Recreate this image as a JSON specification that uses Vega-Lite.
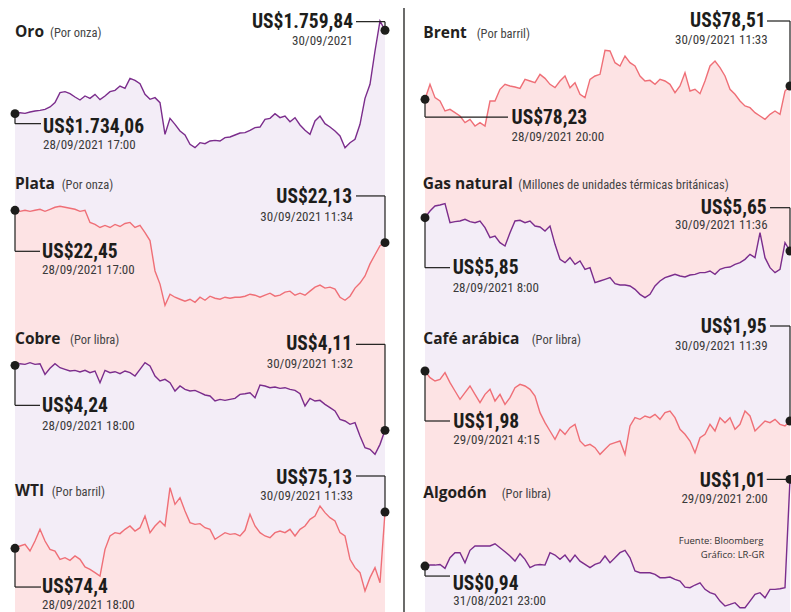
{
"$schema":"https://vega.github.io/schema/vega-lite/v6.json",
"autosize":{"type":"pad"},
"padding":{"left":10,"top":7,"right":0,"bottom":0},
"background":"white",
"config":{"view":{"stroke":null},"text":{"baseline":"alphabetic"},"locale":{"number":{"decimal":",","thousands":".","grouping":[3],"currency":["US$",""]}}},
"datasets":{
"oro":[{"i":0,"v":1734.06,"d":"28/09/2021 17:00"},{"i":1,"v":1734.36},{"i":2,"v":1734.16},{"i":3,"v":1734.57},{"i":4,"v":1734.88},{"i":5,"v":1735.09},{"i":6,"v":1735.40},{"i":7,"v":1736.12},{"i":8,"v":1737.46},{"i":9,"v":1740.55},{"i":10,"v":1740.86},{"i":11,"v":1740.24},{"i":12,"v":1739.21},{"i":13,"v":1738.28},{"i":14,"v":1739.52},{"i":15,"v":1738.80},{"i":16,"v":1740.03},{"i":17,"v":1738.38},{"i":18,"v":1739.52},{"i":19,"v":1740.86},{"i":20,"v":1741.27},{"i":21,"v":1742.61},{"i":22,"v":1741.89},{"i":23,"v":1744.98},{"i":24,"v":1744.36},{"i":25,"v":1743.33},{"i":26,"v":1740.03},{"i":27,"v":1738.49},{"i":28,"v":1739.00},{"i":29,"v":1737.46},{"i":30,"v":1727.67},{"i":31,"v":1732.61},{"i":32,"v":1730.76},{"i":33,"v":1728.70},{"i":34,"v":1727.46},{"i":35,"v":1724.58},{"i":36,"v":1723.55},{"i":37,"v":1725.09},{"i":38,"v":1724.78},{"i":39,"v":1725.61},{"i":40,"v":1725.81},{"i":41,"v":1725.61},{"i":42,"v":1726.64},{"i":43,"v":1726.84},{"i":44,"v":1727.46},{"i":45,"v":1728.08},{"i":46,"v":1728.18},{"i":47,"v":1728.90},{"i":48,"v":1729.73},{"i":49,"v":1729.93},{"i":50,"v":1732.30},{"i":51,"v":1732.61},{"i":52,"v":1734.06},{"i":53,"v":1732.82},{"i":54,"v":1733.33},{"i":55,"v":1731.58},{"i":56,"v":1732.82},{"i":57,"v":1730.55},{"i":58,"v":1728.90},{"i":59,"v":1727.67},{"i":60,"v":1731.79},{"i":61,"v":1733.33},{"i":62,"v":1730.96},{"i":63,"v":1729.93},{"i":64,"v":1728.70},{"i":65,"v":1727.15},{"i":66,"v":1723.55},{"i":67,"v":1725.09},{"i":68,"v":1726.12},{"i":69,"v":1730.76},{"i":70,"v":1738.80},{"i":71,"v":1743.12},{"i":72,"v":1753.43},{"i":73,"v":1762.70},{"i":74,"v":1759.84,"d":"30/09/2021"}],
"plata":[{"i":0,"v":22.45,"d":"28/09/2021 17:00"},{"i":1,"v":22.44},{"i":2,"v":22.45},{"i":3,"v":22.44},{"i":4,"v":22.45},{"i":5,"v":22.46},{"i":6,"v":22.44},{"i":7,"v":22.46},{"i":8,"v":22.48},{"i":9,"v":22.49},{"i":10,"v":22.48},{"i":11,"v":22.47},{"i":12,"v":22.46},{"i":13,"v":22.44},{"i":14,"v":22.45},{"i":15,"v":22.33},{"i":16,"v":22.31},{"i":17,"v":22.28},{"i":18,"v":22.30},{"i":19,"v":22.28},{"i":20,"v":22.31},{"i":21,"v":22.29},{"i":22,"v":22.32},{"i":23,"v":22.33},{"i":24,"v":22.28},{"i":25,"v":22.30},{"i":26,"v":22.23},{"i":27,"v":22.15},{"i":28,"v":21.85},{"i":29,"v":21.72},{"i":30,"v":21.51},{"i":31,"v":21.62},{"i":32,"v":21.59},{"i":33,"v":21.57},{"i":34,"v":21.55},{"i":35,"v":21.57},{"i":36,"v":21.54},{"i":37,"v":21.59},{"i":38,"v":21.56},{"i":39,"v":21.60},{"i":40,"v":21.58},{"i":41,"v":21.57},{"i":42,"v":21.59},{"i":43,"v":21.58},{"i":44,"v":21.59},{"i":45,"v":21.59},{"i":46,"v":21.60},{"i":47,"v":21.62},{"i":48,"v":21.61},{"i":49,"v":21.59},{"i":50,"v":21.61},{"i":51,"v":21.63},{"i":52,"v":21.60},{"i":53,"v":21.61},{"i":54,"v":21.64},{"i":55,"v":21.65},{"i":56,"v":21.61},{"i":57,"v":21.63},{"i":58,"v":21.61},{"i":59,"v":21.65},{"i":60,"v":21.69},{"i":61,"v":21.71},{"i":62,"v":21.68},{"i":63,"v":21.69},{"i":64,"v":21.67},{"i":65,"v":21.59},{"i":66,"v":21.56},{"i":67,"v":21.60},{"i":68,"v":21.68},{"i":69,"v":21.73},{"i":70,"v":21.80},{"i":71,"v":21.92},{"i":72,"v":22.01},{"i":73,"v":22.10},{"i":74,"v":22.13,"d":"30/09/2021 11:34"}],
"cobre":[{"i":0,"v":4.2400,"d":"28/09/2021 18:00"},{"i":1,"v":4.2433},{"i":2,"v":4.2420},{"i":3,"v":4.2453},{"i":4,"v":4.2420},{"i":5,"v":4.2433},{"i":6,"v":4.2220},{"i":7,"v":4.2340},{"i":8,"v":4.2433},{"i":9,"v":4.2353},{"i":10,"v":4.2320},{"i":11,"v":4.2287},{"i":12,"v":4.2300},{"i":13,"v":4.2267},{"i":14,"v":4.2300},{"i":15,"v":4.2253},{"i":16,"v":4.2287},{"i":17,"v":4.2053},{"i":18,"v":4.2300},{"i":19,"v":4.2253},{"i":20,"v":4.2273},{"i":21,"v":4.2233},{"i":22,"v":4.2287},{"i":23,"v":4.2253},{"i":24,"v":4.2187},{"i":25,"v":4.2320},{"i":26,"v":4.2453},{"i":27,"v":4.2387},{"i":28,"v":4.2187},{"i":29,"v":4.2087},{"i":30,"v":4.2120},{"i":31,"v":4.2053},{"i":32,"v":4.1887},{"i":33,"v":4.1987},{"i":34,"v":4.1920},{"i":35,"v":4.1887},{"i":36,"v":4.1900},{"i":37,"v":4.1853},{"i":38,"v":4.1807},{"i":39,"v":4.1787},{"i":40,"v":4.1687},{"i":41,"v":4.1720},{"i":42,"v":4.1700},{"i":43,"v":4.1720},{"i":44,"v":4.1740},{"i":45,"v":4.1820},{"i":46,"v":4.1833},{"i":47,"v":4.1853},{"i":48,"v":4.1753},{"i":49,"v":4.2007},{"i":50,"v":4.1987},{"i":51,"v":4.1953},{"i":52,"v":4.1967},{"i":53,"v":4.1940},{"i":54,"v":4.1953},{"i":55,"v":4.1920},{"i":56,"v":4.1900},{"i":57,"v":4.1833},{"i":58,"v":4.1587},{"i":59,"v":4.1740},{"i":60,"v":4.1687},{"i":61,"v":4.1700},{"i":62,"v":4.1620},{"i":63,"v":4.1553},{"i":64,"v":4.1487},{"i":65,"v":4.1320},{"i":66,"v":4.1287},{"i":67,"v":4.1220},{"i":68,"v":4.1253},{"i":69,"v":4.0987},{"i":70,"v":4.0753},{"i":71,"v":4.0720},{"i":72,"v":4.0620},{"i":73,"v":4.0820},{"i":74,"v":4.1100,"d":"30/09/2021 1:32"}],
"wti":[{"i":0,"v":74.40,"d":"28/09/2021 18:00"},{"i":1,"v":74.447},{"i":2,"v":74.480},{"i":3,"v":74.346},{"i":4,"v":74.547},{"i":5,"v":74.782},{"i":6,"v":74.547},{"i":7,"v":74.380},{"i":8,"v":74.346},{"i":9,"v":74.179},{"i":10,"v":74.212},{"i":11,"v":74.159},{"i":12,"v":74.246},{"i":13,"v":74.179},{"i":14,"v":74.025},{"i":15,"v":73.978},{"i":16,"v":73.911},{"i":17,"v":73.844},{"i":18,"v":74.380},{"i":19,"v":74.648},{"i":20,"v":74.715},{"i":21,"v":74.695},{"i":22,"v":74.782},{"i":23,"v":74.849},{"i":24,"v":74.748},{"i":25,"v":74.815},{"i":26,"v":75.050},{"i":27,"v":74.715},{"i":28,"v":74.849},{"i":29,"v":74.949},{"i":30,"v":74.849},{"i":31,"v":75.619},{"i":32,"v":75.284},{"i":33,"v":75.418},{"i":34,"v":75.150},{"i":35,"v":74.916},{"i":36,"v":74.882},{"i":37,"v":74.896},{"i":38,"v":74.815},{"i":39,"v":74.782},{"i":40,"v":74.581},{"i":41,"v":74.648},{"i":42,"v":74.715},{"i":43,"v":74.681},{"i":44,"v":74.695},{"i":45,"v":74.648},{"i":46,"v":74.762},{"i":47,"v":75.083},{"i":48,"v":74.849},{"i":49,"v":74.715},{"i":50,"v":74.648},{"i":51,"v":74.614},{"i":52,"v":74.715},{"i":53,"v":74.748},{"i":54,"v":74.715},{"i":55,"v":74.782},{"i":56,"v":74.648},{"i":57,"v":74.782},{"i":58,"v":74.849},{"i":59,"v":74.983},{"i":60,"v":75.050},{"i":61,"v":75.251},{"i":62,"v":75.117},{"i":63,"v":75.016},{"i":64,"v":74.949},{"i":65,"v":74.715},{"i":66,"v":74.648},{"i":67,"v":74.179},{"i":68,"v":74.012},{"i":69,"v":73.911},{"i":70,"v":73.543},{"i":71,"v":73.811},{"i":72,"v":74.012},{"i":73,"v":73.710},{"i":74,"v":75.13,"d":"30/09/2021 11:33"}],
"brent":[{"i":0,"v":78.23,"d":"28/09/2021 20:00"},{"i":1,"v":78.545},{"i":2,"v":78.265},{"i":3,"v":78.195},{"i":4,"v":77.985},{"i":5,"v":78.02},{"i":6,"v":77.95},{"i":7,"v":77.88},{"i":8,"v":77.74},{"i":9,"v":77.81},{"i":10,"v":77.67},{"i":11,"v":77.74},{"i":12,"v":77.67},{"i":13,"v":78.195},{"i":14,"v":78.195},{"i":15,"v":78.44},{"i":16,"v":78.545},{"i":17,"v":78.51},{"i":18,"v":78.489},{"i":19,"v":78.461},{"i":20,"v":78.65},{"i":21,"v":78.615},{"i":22,"v":78.58},{"i":23,"v":78.755},{"i":24,"v":78.671},{"i":25,"v":78.545},{"i":26,"v":78.475},{"i":27,"v":78.615},{"i":28,"v":78.72},{"i":29,"v":78.475},{"i":30,"v":78.58},{"i":31,"v":78.335},{"i":32,"v":78.265},{"i":33,"v":78.65},{"i":34,"v":78.72},{"i":35,"v":78.755},{"i":36,"v":79.259},{"i":37,"v":79.245},{"i":38,"v":79.00},{"i":39,"v":78.93},{"i":40,"v":79.14},{"i":41,"v":79.00},{"i":42,"v":78.93},{"i":43,"v":78.72},{"i":44,"v":78.615},{"i":45,"v":78.629},{"i":46,"v":78.545},{"i":47,"v":78.65},{"i":48,"v":78.615},{"i":49,"v":78.545},{"i":50,"v":78.37},{"i":51,"v":78.51},{"i":52,"v":78.79},{"i":53,"v":78.405},{"i":54,"v":78.44},{"i":55,"v":78.349},{"i":56,"v":78.615},{"i":57,"v":78.93},{"i":58,"v":79.035},{"i":59,"v":78.895},{"i":60,"v":78.72},{"i":61,"v":78.44},{"i":62,"v":78.335},{"i":63,"v":78.195},{"i":64,"v":78.09},{"i":65,"v":78.055},{"i":66,"v":77.95},{"i":67,"v":77.88},{"i":68,"v":77.81},{"i":69,"v":77.915},{"i":70,"v":77.985},{"i":71,"v":77.915},{"i":72,"v":78.405},{"i":73,"v":78.51,"d":"30/09/2021 11:33"}],
"gas":[{"i":0,"v":5.85,"d":"28/09/2021 8:00"},{"i":1,"v":5.89},{"i":2,"v":5.92},{"i":3,"v":5.926},{"i":4,"v":5.934},{"i":5,"v":5.82},{"i":6,"v":5.826},{"i":7,"v":5.83},{"i":8,"v":5.84},{"i":9,"v":5.826},{"i":10,"v":5.82},{"i":11,"v":5.83},{"i":12,"v":5.79},{"i":13,"v":5.73},{"i":14,"v":5.74},{"i":15,"v":5.70},{"i":16,"v":5.68},{"i":17,"v":5.76},{"i":18,"v":5.83},{"i":19,"v":5.834},{"i":20,"v":5.82},{"i":21,"v":5.83},{"i":22,"v":5.80},{"i":23,"v":5.794},{"i":24,"v":5.77},{"i":25,"v":5.80},{"i":26,"v":5.69},{"i":27,"v":5.60},{"i":28,"v":5.58},{"i":29,"v":5.61},{"i":30,"v":5.57},{"i":31,"v":5.59},{"i":32,"v":5.54},{"i":33,"v":5.55},{"i":34,"v":5.46},{"i":35,"v":5.47},{"i":36,"v":5.48},{"i":37,"v":5.49},{"i":38,"v":5.454},{"i":39,"v":5.446},{"i":40,"v":5.446},{"i":41,"v":5.44},{"i":42,"v":5.42},{"i":43,"v":5.39},{"i":44,"v":5.37},{"i":45,"v":5.39},{"i":46,"v":5.44},{"i":47,"v":5.47},{"i":48,"v":5.49},{"i":49,"v":5.50},{"i":50,"v":5.51},{"i":51,"v":5.50},{"i":52,"v":5.494},{"i":53,"v":5.506},{"i":54,"v":5.51},{"i":55,"v":5.52},{"i":56,"v":5.52},{"i":57,"v":5.53},{"i":58,"v":5.51},{"i":59,"v":5.54},{"i":60,"v":5.55},{"i":61,"v":5.554},{"i":62,"v":5.57},{"i":63,"v":5.58},{"i":64,"v":5.60},{"i":65,"v":5.63},{"i":66,"v":5.61},{"i":67,"v":5.76},{"i":68,"v":5.61},{"i":69,"v":5.55},{"i":70,"v":5.52},{"i":71,"v":5.54},{"i":72,"v":5.70},{"i":73,"v":5.65,"d":"30/09/2021 11:36"}],
"cafe":[{"i":0,"v":1.980,"d":"29/09/2021 4:15"},{"i":1,"v":1.976},{"i":2,"v":1.974},{"i":3,"v":1.975},{"i":4,"v":1.979},{"i":5,"v":1.973},{"i":6,"v":1.968},{"i":7,"v":1.963},{"i":8,"v":1.967},{"i":9,"v":1.971},{"i":10,"v":1.966},{"i":11,"v":1.961},{"i":12,"v":1.966},{"i":13,"v":1.969},{"i":14,"v":1.962},{"i":15,"v":1.966},{"i":16,"v":1.960},{"i":17,"v":1.964},{"i":18,"v":1.970},{"i":19,"v":1.972},{"i":20,"v":1.971},{"i":21,"v":1.969},{"i":22,"v":1.965},{"i":23,"v":1.955},{"i":24,"v":1.949},{"i":25,"v":1.944},{"i":26,"v":1.939},{"i":27,"v":1.945},{"i":28,"v":1.942},{"i":29,"v":1.946},{"i":30,"v":1.948},{"i":31,"v":1.938},{"i":32,"v":1.935},{"i":33,"v":1.936},{"i":34,"v":1.934},{"i":35,"v":1.930},{"i":36,"v":1.933},{"i":37,"v":1.936},{"i":38,"v":1.937},{"i":39,"v":1.938},{"i":40,"v":1.930},{"i":41,"v":1.947},{"i":42,"v":1.952},{"i":43,"v":1.951},{"i":44,"v":1.953},{"i":45,"v":1.952},{"i":46,"v":1.954},{"i":47,"v":1.951},{"i":48,"v":1.955},{"i":49,"v":1.956},{"i":50,"v":1.952},{"i":51,"v":1.945},{"i":52,"v":1.942},{"i":53,"v":1.938},{"i":54,"v":1.931},{"i":55,"v":1.940},{"i":56,"v":1.942},{"i":57,"v":1.948},{"i":58,"v":1.944},{"i":59,"v":1.952},{"i":60,"v":1.949},{"i":61,"v":1.952},{"i":62,"v":1.945},{"i":63,"v":1.948},{"i":64,"v":1.956},{"i":65,"v":1.953},{"i":66,"v":1.944},{"i":67,"v":1.947},{"i":68,"v":1.950},{"i":69,"v":1.949},{"i":70,"v":1.951},{"i":71,"v":1.948},{"i":72,"v":1.947},{"i":73,"v":1.950,"d":"30/09/2021 11:39"}],
"algodon":[{"i":0,"v":0.9400,"d":"31/08/2021 23:00"},{"i":1,"v":0.9408},{"i":2,"v":0.9408},{"i":3,"v":0.9413},{"i":4,"v":0.9381},{"i":5,"v":0.9467},{"i":6,"v":0.9508},{"i":7,"v":0.9508},{"i":8,"v":0.9427},{"i":9,"v":0.9527},{"i":10,"v":0.9562},{"i":11,"v":0.9562},{"i":12,"v":0.9562},{"i":13,"v":0.9562},{"i":14,"v":0.9580},{"i":15,"v":0.9548},{"i":16,"v":0.9516},{"i":17,"v":0.9481},{"i":18,"v":0.9440},{"i":19,"v":0.9500},{"i":20,"v":0.9454},{"i":21,"v":0.9387},{"i":22,"v":0.9408},{"i":23,"v":0.9413},{"i":24,"v":0.9408},{"i":25,"v":0.9508},{"i":26,"v":0.9489},{"i":27,"v":0.9454},{"i":28,"v":0.9489},{"i":29,"v":0.9435},{"i":30,"v":0.9489},{"i":31,"v":0.9440},{"i":32,"v":0.9413},{"i":33,"v":0.9387},{"i":34,"v":0.9413},{"i":35,"v":0.9427},{"i":36,"v":0.9481},{"i":37,"v":0.9427},{"i":38,"v":0.9467},{"i":39,"v":0.9508},{"i":40,"v":0.9527},{"i":41,"v":0.9467},{"i":42,"v":0.9360},{"i":43,"v":0.9346},{"i":44,"v":0.9346},{"i":45,"v":0.9346},{"i":46,"v":0.9333},{"i":47,"v":0.9306},{"i":48,"v":0.9306},{"i":49,"v":0.9311},{"i":50,"v":0.9292},{"i":51,"v":0.9279},{"i":52,"v":0.9230},{"i":53,"v":0.9225},{"i":54,"v":0.9247},{"i":55,"v":0.9265},{"i":56,"v":0.9212},{"i":57,"v":0.9185},{"i":58,"v":0.9171},{"i":59,"v":0.9117},{"i":60,"v":0.9077},{"i":61,"v":0.9090},{"i":62,"v":0.9104},{"i":63,"v":0.9063},{"i":64,"v":0.9063},{"i":65,"v":0.9117},{"i":66,"v":0.9171},{"i":67,"v":0.9185},{"i":68,"v":0.9144},{"i":69,"v":0.9212},{"i":70,"v":0.9212},{"i":71,"v":0.9217},{"i":72,"v":0.9225},{"i":73,"v":1.0100,"d":"29/09/2021 2:00"}]
},
"bounds":"flush",
"columns":2,
"spacing":{"row":7,"column":40},
"concat":[
{"width":370,"height":145,"data":{"name":"oro"},
"encoding":{"x":{"field":"i","type":"quantitative","axis":null,"scale":{"domain":[0,74],"nice":false,"zero":false}},"y":{"field":"v","type":"quantitative","axis":null,"scale":{"domain":[1720.97,1765.79],"nice":false,"zero":false}}},
"layer":[
{"mark":{"type":"area","color":"#f3edf7"}},
{"mark":{"type":"line","color":"#7b2d8c","strokeWidth":1.4}},
{"transform":[{"filter":"datum.i==0"}],"mark":{"type":"rule","color":"#1d1d1b","strokeWidth":1.2,"y2Offset":10},"encoding":{"y2":{"field":"v"}}},
{"transform":[{"filter":"datum.i==0"}],"mark":{"type":"rule","color":"#1d1d1b","strokeWidth":1.2,"yOffset":10,"x2Offset":26},"encoding":{"x2":{"field":"i"}}},
{"transform":[{"filter":"datum.i==74"}],"mark":{"type":"rule","color":"#1d1d1b","strokeWidth":1.2,"y2Offset":-8.6},"encoding":{"y2":{"field":"v"}}},
{"transform":[{"filter":"datum.i==74"}],"mark":{"type":"rule","color":"#1d1d1b","strokeWidth":1.2,"yOffset":-8.6,"x2Offset":-29},"encoding":{"x2":{"field":"i"}}},
{"transform":[{"filter":"datum.i==0||datum.i==74"}],"mark":{"type":"circle","size":80,"color":"#1d1d1b","opacity":1}},
{"transform":[{"filter":"datum.i==0"}],"mark":{"type":"text","align":"left","dx":28,"dy":19,"font":"Liberation Sans Narrow, Arial Narrow, Roboto Condensed, DejaVu Sans Condensed, sans-serif","fontWeight":"bold","fontSize":19.5,"color":"#1d1d1b"},"encoding":{"text":{"field":"v","type":"quantitative","format":"$,.2~f"}}},
{"transform":[{"filter":"datum.i==0"}],"mark":{"type":"text","align":"left","dx":28,"dy":35.5,"font":"Liberation Sans Narrow, Arial Narrow, Roboto Condensed, DejaVu Sans Condensed, sans-serif","fontSize":13,"color":"#3a3a3a"},"encoding":{"text":{"field":"d"}}},
{"transform":[{"filter":"datum.i==74"}],"mark":{"type":"text","align":"right","dx":-32,"dy":-2.6,"font":"Liberation Sans Narrow, Arial Narrow, Roboto Condensed, DejaVu Sans Condensed, sans-serif","fontWeight":"bold","fontSize":19.5,"color":"#1d1d1b"},"encoding":{"text":{"field":"v","type":"quantitative","format":"$,.2~f"}}},
{"transform":[{"filter":"datum.i==74"}],"mark":{"type":"text","align":"right","dx":-32,"dy":14.7,"font":"Liberation Sans Narrow, Arial Narrow, Roboto Condensed, DejaVu Sans Condensed, sans-serif","fontSize":13,"color":"#3a3a3a"},"encoding":{"text":{"field":"d"}}},
{"transform":[{"filter":"datum.i==0"}],"mark":{"type":"text","text":"Oro","align":"left","dx":0,"dy":-76.7,"font":"Open Sans, Noto Sans, sans-serif","fontWeight":"bold","fontSize":15.5,"color":"#231f20"}},
{"transform":[{"filter":"datum.i==0"}],"mark":{"type":"text","text":"(Por onza)","align":"left","dx":35,"dy":-76.7,"font":"Liberation Sans Narrow, Arial Narrow, Roboto Condensed, DejaVu Sans Condensed, sans-serif","fontSize":12.5,"color":"#444444"}}
]},
{"width":365,"height":145,"data":{"name":"brent"},
"encoding":{"x":{"field":"i","type":"quantitative","axis":null,"scale":{"domain":[0,73],"nice":false,"zero":false}},"y":{"field":"v","type":"quantitative","axis":null,"scale":{"domain":[77.04,80.085],"nice":false,"zero":false}}},
"layer":[
{"mark":{"type":"area","color":"#fde3e4"}},
{"mark":{"type":"line","color":"#ef6f77","strokeWidth":1.4}},
{"transform":[{"filter":"datum.i==0"}],"mark":{"type":"rule","color":"#1d1d1b","strokeWidth":1.3,"xOffset":-21,"yOffset":-3},"encoding":{"y":{"datum":80.085},"y2":{"datum":77.04}}},
{"transform":[{"filter":"datum.i==0"}],"mark":{"type":"rule","color":"#1d1d1b","strokeWidth":1.2,"y2Offset":17.7},"encoding":{"y2":{"field":"v"}}},
{"transform":[{"filter":"datum.i==0"}],"mark":{"type":"rule","color":"#1d1d1b","strokeWidth":1.2,"yOffset":17.7,"x2Offset":83},"encoding":{"x2":{"field":"i"}}},
{"transform":[{"filter":"datum.i==73"}],"mark":{"type":"rule","color":"#1d1d1b","strokeWidth":1.2,"y2Offset":-65},"encoding":{"y2":{"field":"v"}}},
{"transform":[{"filter":"datum.i==73"}],"mark":{"type":"rule","color":"#1d1d1b","strokeWidth":1.2,"yOffset":-65,"x2Offset":-23},"encoding":{"x2":{"field":"i"}}},
{"transform":[{"filter":"datum.i==0||datum.i==73"}],"mark":{"type":"circle","size":80,"color":"#1d1d1b","opacity":1}},
{"transform":[{"filter":"datum.i==0"}],"mark":{"type":"text","align":"left","dx":86.5,"dy":24.4,"font":"Liberation Sans Narrow, Arial Narrow, Roboto Condensed, DejaVu Sans Condensed, sans-serif","fontWeight":"bold","fontSize":19.5,"color":"#1d1d1b"},"encoding":{"text":{"field":"v","type":"quantitative","format":"$,.2~f"}}},
{"transform":[{"filter":"datum.i==0"}],"mark":{"type":"text","align":"left","dx":86.5,"dy":41.7,"font":"Liberation Sans Narrow, Arial Narrow, Roboto Condensed, DejaVu Sans Condensed, sans-serif","fontSize":13,"color":"#3a3a3a"},"encoding":{"text":{"field":"d"}}},
{"transform":[{"filter":"datum.i==73"}],"mark":{"type":"text","align":"right","dx":-24.3,"dy":-59,"font":"Liberation Sans Narrow, Arial Narrow, Roboto Condensed, DejaVu Sans Condensed, sans-serif","fontWeight":"bold","fontSize":19.5,"color":"#1d1d1b"},"encoding":{"text":{"field":"v","type":"quantitative","format":"$,.2~f"}}},
{"transform":[{"filter":"datum.i==73"}],"mark":{"type":"text","align":"right","dx":-22.3,"dy":-42.3,"font":"Liberation Sans Narrow, Arial Narrow, Roboto Condensed, DejaVu Sans Condensed, sans-serif","fontSize":13,"color":"#3a3a3a"},"encoding":{"text":{"field":"d"}}},
{"transform":[{"filter":"datum.i==0"}],"mark":{"type":"text","text":"Brent","align":"left","dx":-1.7,"dy":-61.6,"font":"Open Sans, Noto Sans, sans-serif","fontWeight":"bold","fontSize":15.5,"color":"#231f20"}},
{"transform":[{"filter":"datum.i==0"}],"mark":{"type":"text","text":"(Por barril)","align":"left","dx":51.7,"dy":-61.6,"font":"Liberation Sans Narrow, Arial Narrow, Roboto Condensed, DejaVu Sans Condensed, sans-serif","fontSize":12.5,"color":"#444444"}}
]},
{"width":370,"height":145,"data":{"name":"plata"},
"encoding":{"x":{"field":"i","type":"quantitative","axis":null,"scale":{"domain":[0,74],"nice":false,"zero":false}},"y":{"field":"v","type":"quantitative","axis":null,"scale":{"domain":[21.4834,22.918],"nice":false,"zero":false}}},
"layer":[
{"mark":{"type":"area","color":"#fde3e4"}},
{"mark":{"type":"line","color":"#ef6f77","strokeWidth":1.4}},
{"transform":[{"filter":"datum.i==0"}],"mark":{"type":"rule","color":"#1d1d1b","strokeWidth":1.2,"y2Offset":41},"encoding":{"y2":{"field":"v"}}},
{"transform":[{"filter":"datum.i==0"}],"mark":{"type":"rule","color":"#1d1d1b","strokeWidth":1.2,"yOffset":41,"x2Offset":25},"encoding":{"x2":{"field":"i"}}},
{"transform":[{"filter":"datum.i==74"}],"mark":{"type":"rule","color":"#1d1d1b","strokeWidth":1.2,"y2Offset":-46.7},"encoding":{"y2":{"field":"v"}}},
{"transform":[{"filter":"datum.i==74"}],"mark":{"type":"rule","color":"#1d1d1b","strokeWidth":1.2,"yOffset":-46.7,"x2Offset":-29},"encoding":{"x2":{"field":"i"}}},
{"transform":[{"filter":"datum.i==0||datum.i==74"}],"mark":{"type":"circle","size":80,"color":"#1d1d1b","opacity":1}},
{"transform":[{"filter":"datum.i==0"}],"mark":{"type":"text","align":"left","dx":27,"dy":47.4,"font":"Liberation Sans Narrow, Arial Narrow, Roboto Condensed, DejaVu Sans Condensed, sans-serif","fontWeight":"bold","fontSize":19.5,"color":"#1d1d1b"},"encoding":{"text":{"field":"v","type":"quantitative","format":"$,.2~f"}}},
{"transform":[{"filter":"datum.i==0"}],"mark":{"type":"text","align":"left","dx":27,"dy":64,"font":"Liberation Sans Narrow, Arial Narrow, Roboto Condensed, DejaVu Sans Condensed, sans-serif","fontSize":13,"color":"#3a3a3a"},"encoding":{"text":{"field":"d"}}},
{"transform":[{"filter":"datum.i==74"}],"mark":{"type":"text","align":"right","dx":-33,"dy":-40,"font":"Liberation Sans Narrow, Arial Narrow, Roboto Condensed, DejaVu Sans Condensed, sans-serif","fontWeight":"bold","fontSize":19.5,"color":"#1d1d1b"},"encoding":{"text":{"field":"v","type":"quantitative","format":"$,.2~f"}}},
{"transform":[{"filter":"datum.i==74"}],"mark":{"type":"text","align":"right","dx":-32,"dy":-21.7,"font":"Liberation Sans Narrow, Arial Narrow, Roboto Condensed, DejaVu Sans Condensed, sans-serif","fontSize":13,"color":"#3a3a3a"},"encoding":{"text":{"field":"d"}}},
{"transform":[{"filter":"datum.i==0"}],"mark":{"type":"text","text":"Plata","align":"left","dx":0,"dy":-21,"font":"Open Sans, Noto Sans, sans-serif","fontWeight":"bold","fontSize":15.5,"color":"#231f20"}},
{"transform":[{"filter":"datum.i==0"}],"mark":{"type":"text","text":"(Por onza)","align":"left","dx":46.7,"dy":-21,"font":"Liberation Sans Narrow, Arial Narrow, Roboto Condensed, DejaVu Sans Condensed, sans-serif","fontSize":12.5,"color":"#444444"}}
]},
{"width":365,"height":145,"data":{"name":"gas"},
"encoding":{"x":{"field":"i","type":"quantitative","axis":null,"scale":{"domain":[0,73],"nice":false,"zero":false}},"y":{"field":"v","type":"quantitative","axis":null,"scale":{"domain":[5.308,6.178],"nice":false,"zero":false}}},
"layer":[
{"mark":{"type":"area","color":"#f3edf7"}},
{"mark":{"type":"line","color":"#7b2d8c","strokeWidth":1.4}},
{"transform":[{"filter":"datum.i==0"}],"mark":{"type":"rule","color":"#1d1d1b","strokeWidth":1.3,"xOffset":-21,"yOffset":-7},"encoding":{"y":{"datum":6.178},"y2":{"datum":5.308}}},
{"transform":[{"filter":"datum.i==0"}],"mark":{"type":"rule","color":"#1d1d1b","strokeWidth":1.2,"y2Offset":50},"encoding":{"y2":{"field":"v"}}},
{"transform":[{"filter":"datum.i==0"}],"mark":{"type":"rule","color":"#1d1d1b","strokeWidth":1.2,"yOffset":50,"x2Offset":25},"encoding":{"x2":{"field":"i"}}},
{"transform":[{"filter":"datum.i==73"}],"mark":{"type":"rule","color":"#1d1d1b","strokeWidth":1.2,"y2Offset":-43.3},"encoding":{"y2":{"field":"v"}}},
{"transform":[{"filter":"datum.i==73"}],"mark":{"type":"rule","color":"#1d1d1b","strokeWidth":1.2,"yOffset":-43.3,"x2Offset":-20},"encoding":{"x2":{"field":"i"}}},
{"transform":[{"filter":"datum.i==0||datum.i==73"}],"mark":{"type":"circle","size":80,"color":"#1d1d1b","opacity":1}},
{"transform":[{"filter":"datum.i==0"}],"mark":{"type":"text","align":"left","dx":27.7,"dy":56.6,"font":"Liberation Sans Narrow, Arial Narrow, Roboto Condensed, DejaVu Sans Condensed, sans-serif","fontWeight":"bold","fontSize":19.5,"color":"#1d1d1b"},"encoding":{"text":{"field":"v","type":"quantitative","format":"$,.2~f"}}},
{"transform":[{"filter":"datum.i==0"}],"mark":{"type":"text","align":"left","dx":27.7,"dy":74,"font":"Liberation Sans Narrow, Arial Narrow, Roboto Condensed, DejaVu Sans Condensed, sans-serif","fontSize":13,"color":"#3a3a3a"},"encoding":{"text":{"field":"d"}}},
{"transform":[{"filter":"datum.i==73"}],"mark":{"type":"text","align":"right","dx":-23.3,"dy":-36.7,"font":"Liberation Sans Narrow, Arial Narrow, Roboto Condensed, DejaVu Sans Condensed, sans-serif","fontWeight":"bold","fontSize":19.5,"color":"#1d1d1b"},"encoding":{"text":{"field":"v","type":"quantitative","format":"$,.2~f"}}},
{"transform":[{"filter":"datum.i==73"}],"mark":{"type":"text","align":"right","dx":-22.3,"dy":-21.7,"font":"Liberation Sans Narrow, Arial Narrow, Roboto Condensed, DejaVu Sans Condensed, sans-serif","fontSize":13,"color":"#3a3a3a"},"encoding":{"text":{"field":"d"}}},
{"transform":[{"filter":"datum.i==0"}],"mark":{"type":"text","text":"Gas natural","align":"left","dx":-2.3,"dy":-28.4,"font":"Open Sans, Noto Sans, sans-serif","fontWeight":"bold","fontSize":15.5,"color":"#231f20"}},
{"transform":[{"filter":"datum.i==0"}],"mark":{"type":"text","text":"(Millones de unidades térmicas británicas)","align":"left","dx":93.3,"dy":-28.4,"font":"Liberation Sans Narrow, Arial Narrow, Roboto Condensed, DejaVu Sans Condensed, sans-serif","fontSize":12.5,"color":"#444444"}}
]},
{"width":370,"height":145,"data":{"name":"cobre"},
"encoding":{"x":{"field":"i","type":"quantitative","axis":null,"scale":{"domain":[0,74],"nice":false,"zero":false}},"y":{"field":"v","type":"quantitative","axis":null,"scale":{"domain":[4.0507,4.3407],"nice":false,"zero":false}}},
"layer":[
{"mark":{"type":"area","color":"#f3edf7"}},
{"mark":{"type":"line","color":"#7b2d8c","strokeWidth":1.4}},
{"transform":[{"filter":"datum.i==0"}],"mark":{"type":"rule","color":"#1d1d1b","strokeWidth":1.2,"y2Offset":40},"encoding":{"y2":{"field":"v"}}},
{"transform":[{"filter":"datum.i==0"}],"mark":{"type":"rule","color":"#1d1d1b","strokeWidth":1.2,"yOffset":40,"x2Offset":25},"encoding":{"x2":{"field":"i"}}},
{"transform":[{"filter":"datum.i==74"}],"mark":{"type":"rule","color":"#1d1d1b","strokeWidth":1.2,"y2Offset":-86},"encoding":{"y2":{"field":"v"}}},
{"transform":[{"filter":"datum.i==74"}],"mark":{"type":"rule","color":"#1d1d1b","strokeWidth":1.2,"yOffset":-86,"x2Offset":-29},"encoding":{"x2":{"field":"i"}}},
{"transform":[{"filter":"datum.i==0||datum.i==74"}],"mark":{"type":"circle","size":80,"color":"#1d1d1b","opacity":1}},
{"transform":[{"filter":"datum.i==0"}],"mark":{"type":"text","align":"left","dx":27,"dy":46.7,"font":"Liberation Sans Narrow, Arial Narrow, Roboto Condensed, DejaVu Sans Condensed, sans-serif","fontWeight":"bold","fontSize":19.5,"color":"#1d1d1b"},"encoding":{"text":{"field":"v","type":"quantitative","format":"$,.2~f"}}},
{"transform":[{"filter":"datum.i==0"}],"mark":{"type":"text","align":"left","dx":27,"dy":65,"font":"Liberation Sans Narrow, Arial Narrow, Roboto Condensed, DejaVu Sans Condensed, sans-serif","fontSize":13,"color":"#3a3a3a"},"encoding":{"text":{"field":"d"}}},
{"transform":[{"filter":"datum.i==74"}],"mark":{"type":"text","align":"right","dx":-33,"dy":-80.3,"font":"Liberation Sans Narrow, Arial Narrow, Roboto Condensed, DejaVu Sans Condensed, sans-serif","fontWeight":"bold","fontSize":19.5,"color":"#1d1d1b"},"encoding":{"text":{"field":"v","type":"quantitative","format":"$,.2~f"}}},
{"transform":[{"filter":"datum.i==74"}],"mark":{"type":"text","align":"right","dx":-32,"dy":-62.6,"font":"Liberation Sans Narrow, Arial Narrow, Roboto Condensed, DejaVu Sans Condensed, sans-serif","fontSize":13,"color":"#3a3a3a"},"encoding":{"text":{"field":"d"}}},
{"transform":[{"filter":"datum.i==0"}],"mark":{"type":"text","text":"Cobre","align":"left","dx":0,"dy":-21,"font":"Open Sans, Noto Sans, sans-serif","fontWeight":"bold","fontSize":15.5,"color":"#231f20"}},
{"transform":[{"filter":"datum.i==0"}],"mark":{"type":"text","text":"(Por libra)","align":"left","dx":55,"dy":-21,"font":"Liberation Sans Narrow, Arial Narrow, Roboto Condensed, DejaVu Sans Condensed, sans-serif","fontSize":12.5,"color":"#444444"}}
]},
{"width":365,"height":145,"data":{"name":"cafe"},
"encoding":{"x":{"field":"i","type":"quantitative","axis":null,"scale":{"domain":[0,73],"nice":false,"zero":false}},"y":{"field":"v","type":"quantitative","axis":null,"scale":{"domain":[1.9266,2.0136],"nice":false,"zero":false}}},
"layer":[
{"mark":{"type":"area","color":"#fde3e4"}},
{"mark":{"type":"line","color":"#ef6f77","strokeWidth":1.4}},
{"transform":[{"filter":"datum.i==0"}],"mark":{"type":"rule","color":"#1d1d1b","strokeWidth":1.3,"xOffset":-21,"yOffset":-7},"encoding":{"y":{"datum":2.0136},"y2":{"datum":1.9266}}},
{"transform":[{"filter":"datum.i==0"}],"mark":{"type":"rule","color":"#1d1d1b","strokeWidth":1.2,"y2Offset":50},"encoding":{"y2":{"field":"v"}}},
{"transform":[{"filter":"datum.i==0"}],"mark":{"type":"rule","color":"#1d1d1b","strokeWidth":1.2,"yOffset":50,"x2Offset":25},"encoding":{"x2":{"field":"i"}}},
{"transform":[{"filter":"datum.i==73"}],"mark":{"type":"rule","color":"#1d1d1b","strokeWidth":1.2,"y2Offset":-95},"encoding":{"y2":{"field":"v"}}},
{"transform":[{"filter":"datum.i==73"}],"mark":{"type":"rule","color":"#1d1d1b","strokeWidth":1.2,"yOffset":-95,"x2Offset":-20},"encoding":{"x2":{"field":"i"}}},
{"transform":[{"filter":"datum.i==0||datum.i==73"}],"mark":{"type":"circle","size":80,"color":"#1d1d1b","opacity":1}},
{"transform":[{"filter":"datum.i==0"}],"mark":{"type":"text","align":"left","dx":28.3,"dy":56.7,"font":"Liberation Sans Narrow, Arial Narrow, Roboto Condensed, DejaVu Sans Condensed, sans-serif","fontWeight":"bold","fontSize":19.5,"color":"#1d1d1b"},"encoding":{"text":{"field":"v","type":"quantitative","format":"$,.2~f"}}},
{"transform":[{"filter":"datum.i==0"}],"mark":{"type":"text","align":"left","dx":28.3,"dy":73.3,"font":"Liberation Sans Narrow, Arial Narrow, Roboto Condensed, DejaVu Sans Condensed, sans-serif","fontSize":13,"color":"#3a3a3a"},"encoding":{"text":{"field":"d"}}},
{"transform":[{"filter":"datum.i==73"}],"mark":{"type":"text","align":"right","dx":-23.3,"dy":-88.3,"font":"Liberation Sans Narrow, Arial Narrow, Roboto Condensed, DejaVu Sans Condensed, sans-serif","fontWeight":"bold","fontSize":19.5,"color":"#1d1d1b"},"encoding":{"text":{"field":"v","type":"quantitative","format":"$,.2~f"}}},
{"transform":[{"filter":"datum.i==73"}],"mark":{"type":"text","align":"right","dx":-22.3,"dy":-70.7,"font":"Liberation Sans Narrow, Arial Narrow, Roboto Condensed, DejaVu Sans Condensed, sans-serif","fontSize":13,"color":"#3a3a3a"},"encoding":{"text":{"field":"d"}}},
{"transform":[{"filter":"datum.i==0"}],"mark":{"type":"text","text":"Café arábica","align":"left","dx":-1.7,"dy":-26.7,"font":"Open Sans, Noto Sans, sans-serif","fontWeight":"bold","fontSize":15.5,"color":"#231f20"}},
{"transform":[{"filter":"datum.i==0"}],"mark":{"type":"text","text":"(Por libra)","align":"left","dx":106.7,"dy":-26.7,"font":"Liberation Sans Narrow, Arial Narrow, Roboto Condensed, DejaVu Sans Condensed, sans-serif","fontSize":12.5,"color":"#444444"}}
]},
{"width":370,"height":145,"data":{"name":"wti"},
"encoding":{"x":{"field":"i","type":"quantitative","axis":null,"scale":{"domain":[0,74],"nice":false,"zero":false}},"y":{"field":"v","type":"quantitative","axis":null,"scale":{"domain":[73.121,76.034],"nice":false,"zero":false}}},
"layer":[
{"mark":{"type":"area","color":"#fde3e4"}},
{"mark":{"type":"line","color":"#ef6f77","strokeWidth":1.4}},
{"transform":[{"filter":"datum.i==0"}],"mark":{"type":"rule","color":"#1d1d1b","strokeWidth":1.2,"y2Offset":38.7},"encoding":{"y2":{"field":"v"}}},
{"transform":[{"filter":"datum.i==0"}],"mark":{"type":"rule","color":"#1d1d1b","strokeWidth":1.2,"yOffset":38.7,"x2Offset":26},"encoding":{"x2":{"field":"i"}}},
{"transform":[{"filter":"datum.i==74"}],"mark":{"type":"rule","color":"#1d1d1b","strokeWidth":1.2,"y2Offset":-36},"encoding":{"y2":{"field":"v"}}},
{"transform":[{"filter":"datum.i==74"}],"mark":{"type":"rule","color":"#1d1d1b","strokeWidth":1.2,"yOffset":-36,"x2Offset":-29},"encoding":{"x2":{"field":"i"}}},
{"transform":[{"filter":"datum.i==0||datum.i==74"}],"mark":{"type":"circle","size":80,"color":"#1d1d1b","opacity":1}},
{"transform":[{"filter":"datum.i==0"}],"mark":{"type":"text","align":"left","dx":27,"dy":44.4,"font":"Liberation Sans Narrow, Arial Narrow, Roboto Condensed, DejaVu Sans Condensed, sans-serif","fontWeight":"bold","fontSize":19.5,"color":"#1d1d1b"},"encoding":{"text":{"field":"v","type":"quantitative","format":"$,.2~f"}}},
{"transform":[{"filter":"datum.i==0"}],"mark":{"type":"text","align":"left","dx":27,"dy":61,"font":"Liberation Sans Narrow, Arial Narrow, Roboto Condensed, DejaVu Sans Condensed, sans-serif","fontSize":13,"color":"#3a3a3a"},"encoding":{"text":{"field":"d"}}},
{"transform":[{"filter":"datum.i==74"}],"mark":{"type":"text","align":"right","dx":-33,"dy":-27.7,"font":"Liberation Sans Narrow, Arial Narrow, Roboto Condensed, DejaVu Sans Condensed, sans-serif","fontWeight":"bold","fontSize":19.5,"color":"#1d1d1b"},"encoding":{"text":{"field":"v","type":"quantitative","format":"$,.2~f"}}},
{"transform":[{"filter":"datum.i==74"}],"mark":{"type":"text","align":"right","dx":-32,"dy":-11.7,"font":"Liberation Sans Narrow, Arial Narrow, Roboto Condensed, DejaVu Sans Condensed, sans-serif","fontSize":13,"color":"#3a3a3a"},"encoding":{"text":{"field":"d"}}},
{"transform":[{"filter":"datum.i==0"}],"mark":{"type":"text","text":"WTI","align":"left","dx":0,"dy":-52.3,"font":"Open Sans, Noto Sans, sans-serif","fontWeight":"bold","fontSize":15.5,"color":"#231f20"}},
{"transform":[{"filter":"datum.i==0"}],"mark":{"type":"text","text":"(Por barril)","align":"left","dx":36.7,"dy":-52.3,"font":"Liberation Sans Narrow, Arial Narrow, Roboto Condensed, DejaVu Sans Condensed, sans-serif","fontSize":12.5,"color":"#444444"}}
]},
{"width":365,"height":145,"data":{"name":"algodon"},
"encoding":{"x":{"field":"i","type":"quantitative","axis":null,"scale":{"domain":[0,73],"nice":false,"zero":false}},"y":{"field":"v","type":"quantitative","axis":null,"scale":{"domain":[0.9029,1.0200],"nice":false,"zero":false}}},
"layer":[
{"mark":{"type":"area","color":"#f3edf7"}},
{"mark":{"type":"line","color":"#7b2d8c","strokeWidth":1.4}},
{"transform":[{"filter":"datum.i==0"}],"mark":{"type":"rule","color":"#1d1d1b","strokeWidth":1.3,"xOffset":-21,"yOffset":-7,"y2Offset":2},"encoding":{"y":{"datum":1.0200},"y2":{"datum":0.9029}}},
{"transform":[{"filter":"datum.i==0"}],"mark":{"type":"rule","color":"#1d1d1b","strokeWidth":1.2,"y2Offset":10},"encoding":{"y2":{"field":"v"}}},
{"transform":[{"filter":"datum.i==0"}],"mark":{"type":"rule","color":"#1d1d1b","strokeWidth":1.2,"yOffset":10,"x2Offset":25},"encoding":{"x2":{"field":"i"}}},
{"transform":[{"filter":"datum.i==73"}],"mark":{"type":"rule","color":"#1d1d1b","strokeWidth":1.2,"x2Offset":-23.3},"encoding":{"x2":{"field":"i"}}},
{"transform":[{"filter":"datum.i==0||datum.i==73"}],"mark":{"type":"circle","size":80,"color":"#1d1d1b","opacity":1}},
{"transform":[{"filter":"datum.i==0"}],"mark":{"type":"text","align":"left","dx":27.7,"dy":24.3,"font":"Liberation Sans Narrow, Arial Narrow, Roboto Condensed, DejaVu Sans Condensed, sans-serif","fontWeight":"bold","fontSize":19.5,"color":"#1d1d1b"},"encoding":{"text":{"field":"v","type":"quantitative","format":"$,.2~f"}}},
{"transform":[{"filter":"datum.i==0"}],"mark":{"type":"text","align":"left","dx":28.3,"dy":38.6,"font":"Liberation Sans Narrow, Arial Narrow, Roboto Condensed, DejaVu Sans Condensed, sans-serif","fontSize":13,"color":"#3a3a3a"},"encoding":{"text":{"field":"d"}}},
{"transform":[{"filter":"datum.i==73"}],"mark":{"type":"text","align":"right","dx":-24.3,"dy":7.7,"font":"Liberation Sans Narrow, Arial Narrow, Roboto Condensed, DejaVu Sans Condensed, sans-serif","fontWeight":"bold","fontSize":19.5,"color":"#1d1d1b"},"encoding":{"text":{"field":"v","type":"quantitative","format":"$,.2~f"}}},
{"transform":[{"filter":"datum.i==73"}],"mark":{"type":"text","align":"right","dx":-22.3,"dy":23.4,"font":"Liberation Sans Narrow, Arial Narrow, Roboto Condensed, DejaVu Sans Condensed, sans-serif","fontSize":13,"color":"#3a3a3a"},"encoding":{"text":{"field":"d"}}},
{"transform":[{"filter":"datum.i==73"}],"mark":{"type":"text","text":"Fuente: Bloomberg","align":"right","dx":-26.7,"dy":65,"font":"Open Sans, Noto Sans, sans-serif","fontSize":9.5,"color":"#333333"}},
{"transform":[{"filter":"datum.i==73"}],"mark":{"type":"text","text":"Gráfico: LR-GR","align":"right","dx":-25.7,"dy":79,"font":"Open Sans, Noto Sans, sans-serif","fontSize":9.5,"color":"#333333"}},
{"transform":[{"filter":"datum.i==0"}],"mark":{"type":"text","text":"Algodón","align":"left","dx":-1.7,"dy":-68.3,"font":"Open Sans, Noto Sans, sans-serif","fontWeight":"bold","fontSize":15.5,"color":"#231f20"}},
{"transform":[{"filter":"datum.i==0"}],"mark":{"type":"text","text":"(Por libra)","align":"left","dx":76.7,"dy":-68.3,"font":"Liberation Sans Narrow, Arial Narrow, Roboto Condensed, DejaVu Sans Condensed, sans-serif","fontSize":12.5,"color":"#444444"}}
]}
]
}
